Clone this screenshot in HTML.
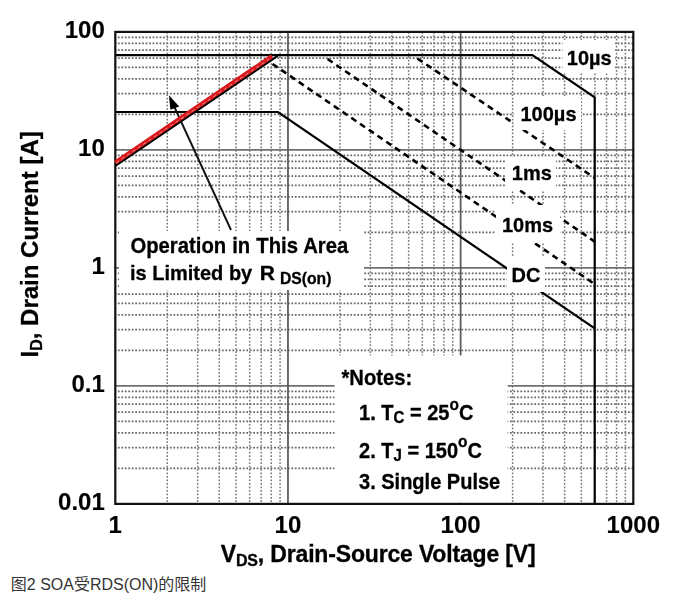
<!DOCTYPE html>
<html><head><meta charset="utf-8"><title>SOA</title>
<style>
html,body{margin:0;padding:0;background:#fff;}
body{width:687px;height:608px;position:relative;overflow:hidden;}
svg{position:absolute;left:0;top:0;display:block;filter:blur(0.35px);}
.cap{position:absolute;left:10.8px;top:573.8px;font-family:"Liberation Sans","Noto Sans CJK SC",sans-serif;font-size:16px;line-height:22px;color:#333;white-space:nowrap;}
</style></head><body>
<svg width="687" height="608" viewBox="0 0 687 608"><rect x="0" y="0" width="687" height="608" fill="#fff"/><path d="M115.30 468.38H633.31M115.30 447.60H633.31M115.30 432.86H633.31M115.30 421.42H633.31M115.30 412.08H633.31M115.30 404.18H633.31M115.30 397.34H633.31M115.30 391.30H633.31M115.30 350.38H633.31M115.30 329.60H633.31M115.30 314.86H633.31M115.30 303.42H633.31M115.30 294.08H633.31M115.30 286.18H633.31M115.30 279.34H633.31M115.30 273.30H633.31M115.30 232.38H633.31M115.30 211.60H633.31M115.30 196.86H633.31M115.30 185.42H633.31M115.30 176.08H633.31M115.30 168.18H633.31M115.30 161.34H633.31M115.30 155.30H633.31M115.30 114.38H633.31M115.30 93.60H633.31M115.30 78.86H633.31M115.30 67.42H633.31M115.30 58.08H633.31M115.30 50.18H633.31M115.30 43.34H633.31M115.30 37.30H633.31" stroke="#666666" stroke-width="1.7" stroke-dasharray="1.75 1.72" stroke-dashoffset="0.87" fill="none"/><path d="M167.28 31.90V503.90M197.68 31.90V503.90M219.26 31.90V503.90M235.99 31.90V503.90M249.66 31.90V503.90M261.22 31.90V503.90M271.24 31.90V503.90M280.07 31.90V503.90M339.95 31.90V503.90M370.35 31.90V503.90M391.93 31.90V503.90M408.66 31.90V503.90M422.33 31.90V503.90M433.89 31.90V503.90M443.91 31.90V503.90M452.74 31.90V503.90M512.62 31.90V503.90M543.02 31.90V503.90M564.60 31.90V503.90M581.33 31.90V503.90M595.00 31.90V503.90M606.56 31.90V503.90M616.58 31.90V503.90M625.41 31.90V503.90" stroke="#7a7a7a" stroke-width="1.5" stroke-dasharray="1.75 1.72" fill="none"/><path d="M115.30 149.90H633.31M115.30 267.90H633.31M115.30 385.90H633.31" stroke="#707070" stroke-width="1.9" fill="none"/><path d="M287.97 31.90V503.90M460.64 31.90V503.90" stroke="#5a5a5a" stroke-width="1.75" fill="none"/><path d="M115.3 55.2H532.4L594.7 97.4V503.9" stroke="#000" stroke-width="2.2" fill="none" stroke-linejoin="miter"/><path d="M115.3 112H278L594.7 328.43" stroke="#000" stroke-width="2.2" fill="none"/><path d="M417.5 58.57L594.7 177.91" stroke="#000" stroke-width="2.6" stroke-dasharray="6.1 4.5" fill="none"/><path d="M327.6 59.03L594.7 241.56" stroke="#000" stroke-width="2.6" stroke-dasharray="6.1 4.5" fill="none"/><path d="M272.5 63.95L594.7 284.14" stroke="#000" stroke-width="2.6" stroke-dasharray="6.1 4.5" fill="none"/><rect x="562.5" y="40" width="52.5" height="33" fill="#fff"/><rect x="514" y="97" width="67" height="33" fill="#fff"/><rect x="505" y="157" width="51" height="33" fill="#fff"/><rect x="496" y="205" width="64" height="38" fill="#fff"/><rect x="507" y="257" width="38" height="35" fill="#fff"/><rect x="119" y="231" width="245" height="59" fill="#fff"/><rect x="334.6" y="355.5" width="173.09999999999997" height="147.2" fill="#fff"/><rect x="115.3" y="31.9" width="518.01" height="472.00" stroke="#111" stroke-width="2.2" fill="none"/><path d="M231 230L173 104" stroke="#111" stroke-width="1.9" fill="none"/><path d="M168.9 95.2L170.4 109.8L179.2 106.4Z" fill="#000"/><path d="M115.3 165.90L276.8 56.40L277.5 55.5" stroke="#000" stroke-width="2.2" fill="none"/><path d="M115.3 162.40L270.5 57.17" stroke="#d8181c" stroke-width="4.2" fill="none"/><circle cx="270.5" cy="57.17" r="2.1" fill="#d8181c"/><path d="M116.3 162.62L269 59.09" stroke="#fff" stroke-width="0.9" stroke-dasharray="3.5 3" opacity="0.55" fill="none"/><text x="104.8" y="37.9" font-family="Liberation Sans, Arial, sans-serif" font-weight="bold" stroke="#000" stroke-width="0.12" font-size="24" text-anchor="end">100</text><text x="104.8" y="155.8" font-family="Liberation Sans, Arial, sans-serif" font-weight="bold" stroke="#000" stroke-width="0.12" font-size="24" text-anchor="end">10</text><text x="104.8" y="274.3" font-family="Liberation Sans, Arial, sans-serif" font-weight="bold" stroke="#000" stroke-width="0.12" font-size="24" text-anchor="end">1</text><text x="104.8" y="392.0" font-family="Liberation Sans, Arial, sans-serif" font-weight="bold" stroke="#000" stroke-width="0.12" font-size="24" text-anchor="end">0.1</text><text x="104.8" y="510.4" font-family="Liberation Sans, Arial, sans-serif" font-weight="bold" stroke="#000" stroke-width="0.12" font-size="24" text-anchor="end">0.01</text><text x="115.30" y="533.3" font-family="Liberation Sans, Arial, sans-serif" font-weight="bold" stroke="#000" stroke-width="0.12" font-size="24" text-anchor="middle">1</text><text x="287.97" y="533.3" font-family="Liberation Sans, Arial, sans-serif" font-weight="bold" stroke="#000" stroke-width="0.12" font-size="24" text-anchor="middle">10</text><text x="460.64" y="533.3" font-family="Liberation Sans, Arial, sans-serif" font-weight="bold" stroke="#000" stroke-width="0.12" font-size="24" text-anchor="middle">100</text><text x="633.31" y="533.3" font-family="Liberation Sans, Arial, sans-serif" font-weight="bold" stroke="#000" stroke-width="0.12" font-size="24" text-anchor="middle">1000</text><text transform="translate(38.0 357.5) rotate(-90)" font-family="Liberation Sans, Arial, sans-serif" font-weight="bold" stroke="#000" stroke-width="0.3" font-size="24">I<tspan font-size="16" dy="4">D</tspan><tspan dy="-4">, Drain Current [A]</tspan></text><text x="220.8" y="561.5" font-family="Liberation Sans, Arial, sans-serif" font-weight="bold" stroke="#000" stroke-width="0.3" font-size="23" letter-spacing="-0.17">V<tspan font-size="16" dy="4">DS</tspan><tspan dy="-4">, Drain-Source Voltage [V]</tspan></text><text transform="translate(566.8 65.4) scale(0.9523809523809523 1)" font-family="Liberation Sans, Arial, sans-serif" font-weight="bold" stroke="#000" stroke-width="0.3" font-size="21.0">10µs</text><text transform="translate(520.5 121.2) scale(0.9523809523809523 1)" font-family="Liberation Sans, Arial, sans-serif" font-weight="bold" stroke="#000" stroke-width="0.3" font-size="21.0">100µs</text><text transform="translate(511.8 180.1) scale(0.9523809523809523 1)" font-family="Liberation Sans, Arial, sans-serif" font-weight="bold" stroke="#000" stroke-width="0.3" font-size="21.0">1ms</text><text transform="translate(502.0 232.0) scale(0.9523809523809523 1)" font-family="Liberation Sans, Arial, sans-serif" font-weight="bold" stroke="#000" stroke-width="0.3" font-size="21.0">10ms</text><text transform="translate(511.5 282.0) scale(0.9523809523809523 1)" font-family="Liberation Sans, Arial, sans-serif" font-weight="bold" stroke="#000" stroke-width="0.3" font-size="21.0">DC</text><text transform="translate(130.4 253) scale(0.9523809523809523 1)" font-family="Liberation Sans, Arial, sans-serif" font-weight="bold" stroke="#000" stroke-width="0.3" font-size="21.31" word-spacing="0.4">Operation in This Area</text><text transform="translate(130 279.6) scale(0.9523809523809523 1)" font-family="Liberation Sans, Arial, sans-serif" font-weight="bold" stroke="#000" stroke-width="0.3" font-size="21.0">is Limited by</text><text x="259.8" y="280.2" font-family="Liberation Sans, Arial, sans-serif" font-weight="bold" stroke="#000" stroke-width="0.3" font-size="21">R</text><text x="280" y="283.5" font-family="Liberation Sans, Arial, sans-serif" font-weight="bold" stroke="#000" stroke-width="0.3" font-size="15.7">DS(on)</text><text transform="translate(341.5 385.0) scale(0.9523809523809523 1)" font-family="Liberation Sans, Arial, sans-serif" font-weight="bold" stroke="#000" stroke-width="0.3" font-size="21.21">*Notes:</text><text transform="translate(359.0 420.3) scale(0.94 1)" font-family="Liberation Sans, Arial, sans-serif" font-weight="bold" stroke="#000" stroke-width="0.3" font-size="21.3">1. T<tspan font-size="16" dy="3">C</tspan><tspan dy="-3"> = 25</tspan><tspan font-size="16.5" dy="-10.5">o</tspan><tspan dy="10.5">C</tspan></text><text transform="translate(359.0 457.8) scale(0.94 1)" font-family="Liberation Sans, Arial, sans-serif" font-weight="bold" stroke="#000" stroke-width="0.3" font-size="21.3">2. T<tspan font-size="16" dy="3">J</tspan><tspan dy="-3"> = 150</tspan><tspan font-size="16.5" dy="-10.5">o</tspan><tspan dy="10.5">C</tspan></text><text transform="translate(359.0 489.1) scale(0.94 1)" font-family="Liberation Sans, Arial, sans-serif" font-weight="bold" stroke="#000" stroke-width="0.3" font-size="21.3">3. Single Pulse</text></svg>
<div class="cap">图2 SOA受RDS(ON)的限制</div>
</body></html>
